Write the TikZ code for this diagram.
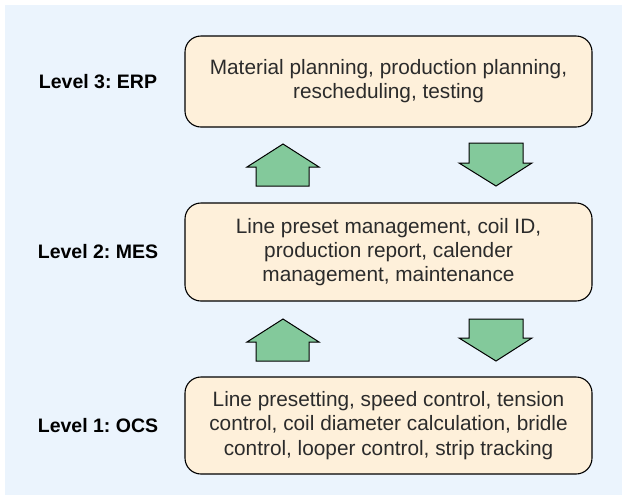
\documentclass[tikz,border=0pt]{standalone}
\usepackage{fontspec}
\setmainfont{Liberation Sans}
\usepackage{tikz}
\frenchspacing

\definecolor{panelblue}{HTML}{EBF4FD}
\definecolor{boxcream}{HTML}{FEF0DA}
\definecolor{arrowgreen}{HTML}{83C99B}
\definecolor{textgray}{HTML}{2B2B2B}

\tikzset{
	levelbox/.style={draw=black, line width=1.1pt, fill=boxcream, rounded corners=16pt,
		minimum width=407pt, align=center, text=textgray, font=\fontsize{20.8}{24.2}\selectfont},
	levellabel/.style={text=black, font=\fontsize{19.5}{24}\selectfont\bfseries},
	blockarrow/.style={draw=black, line width=1pt, fill=arrowgreen, line join=miter}
}

\begin{document}
\begin{tikzpicture}[x=1pt,y=-1pt]

	% panel
	\useasboundingbox (0,0) rectangle (626,499);
	\fill [panelblue] (5,5) rectangle (622,495);

	% Level 3
	\node [levelbox, minimum height=91pt] (erp) at (388.5,81.5)
		{Material planning, production planning,\\rescheduling, testing};
	\node [levellabel] (lerp) at (98,81.5) {Level 3: ERP};

	% Level 2
	\node [levelbox, minimum height=98pt] (mes) at (388.5,252)
		{Line preset management, coil ID,\\production report, calender\\management, maintenance};
	\node [levellabel] (lmes) at (98,252) {Level 2: MES};

	% Level 1
	\node [levelbox, minimum height=97pt] (ocs) at (388.5,425.5)
		{Line presetting, speed control, tension\\control, coil diameter calculation, bridle\\control, looper control, strip tracking};
	\node [levellabel] (locs) at (98,425.5) {Level 1: OCS};

	% up / down between 3 and 2
	\draw [blockarrow] (256,186) -- (256,167) -- (247,167) -- (283,144)
		-- (319,167) -- (309,167) -- (309,186) -- cycle;
	\draw [blockarrow] (469,143) -- (523,143) -- (523,163) -- (532,163)
		-- (496,186) -- (459,163) -- (469,163) -- cycle;

	% up / down between 2 and 1
	\draw [blockarrow] (256,361) -- (256,342) -- (247,342) -- (283,319)
		-- (319,342) -- (309,342) -- (309,361) -- cycle;
	\draw [blockarrow] (469,319) -- (523,319) -- (523,338) -- (532,338)
		-- (496,361) -- (459,338) -- (469,338) -- cycle;

\end{tikzpicture}
\end{document}
